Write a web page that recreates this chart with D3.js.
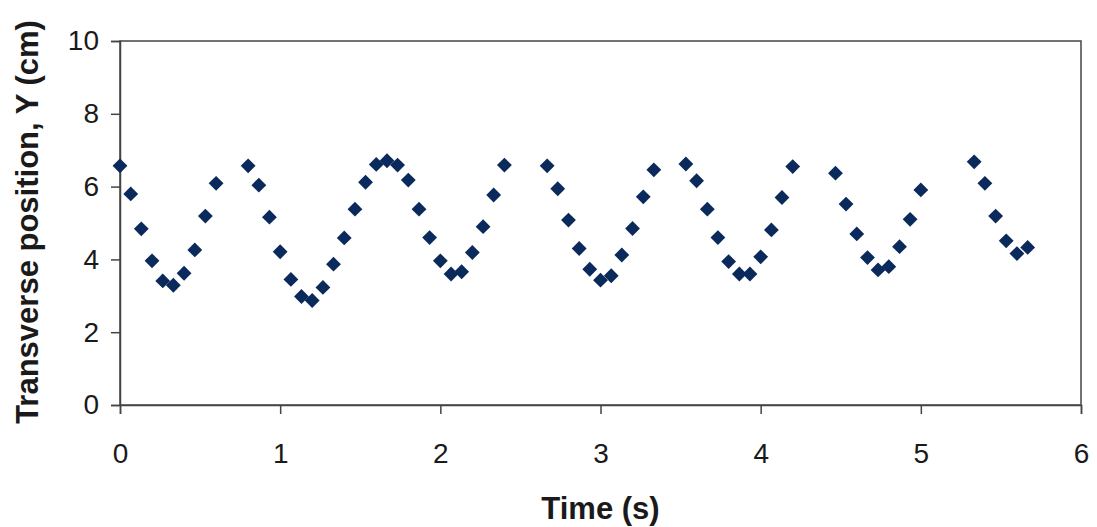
<!DOCTYPE html>
<html>
<head>
<meta charset="utf-8">
<script src="https://cdn.jsdelivr.net/npm/d3@7"></script>
<style>
  body { margin: 0; background: #fff; }
  svg { display: block; font-family: "Liberation Sans", Arial, sans-serif; }
</style>
</head>
<body>
<svg id="chart"></svg>
<script>
// time (s) and transverse position Y (cm)
var times = [0, 0.067, 0.133, 0.2, 0.267, 0.333, 0.4, 0.467, 0.533, 0.6,
  0.8, 0.867, 0.933, 1.0, 1.067, 1.133, 1.2, 1.267, 1.333, 1.4, 1.467, 1.533, 1.6, 1.667, 1.733,
  1.8, 1.867, 1.933, 2.0, 2.067, 2.133, 2.2, 2.267, 2.333, 2.4,
  2.667, 2.733, 2.8, 2.867, 2.933, 3.0, 3.067, 3.133, 3.2, 3.267, 3.333,
  3.533, 3.6, 3.667, 3.733, 3.8, 3.867, 3.933, 4.0, 4.067, 4.133, 4.2,
  4.467, 4.533, 4.6, 4.667, 4.733, 4.8, 4.867, 4.933, 5.0,
  5.333, 5.4, 5.467, 5.533, 5.6, 5.667];
var positions = [6.57, 5.80, 4.84, 3.96, 3.41, 3.29, 3.62, 4.26, 5.19, 6.09,
  6.57, 6.04, 5.16, 4.21, 3.45, 2.98, 2.87, 3.23, 3.87, 4.59, 5.38, 6.12, 6.61, 6.71, 6.59,
  6.18, 5.38, 4.60, 3.96, 3.60, 3.66, 4.19, 4.90, 5.77, 6.59,
  6.57, 5.94, 5.08, 4.30, 3.73, 3.43, 3.55, 4.12, 4.85, 5.72, 6.46,
  6.62, 6.16, 5.38, 4.60, 3.94, 3.60, 3.60, 4.07, 4.81, 5.70, 6.55,
  6.37, 5.52, 4.70, 4.05, 3.71, 3.80, 4.35, 5.10, 5.91,
  6.68, 6.09, 5.19, 4.51, 4.16, 4.33];
var xTicks = [0, 1, 2, 3, 4, 5, 6];
var yTicks = [0, 2, 4, 6, 8, 10];

var W = 1097, H = 527;
var plotL = 120, plotR = 1081, plotT = 41, plotB = 405;

var svg = d3.select("#chart").attr("width", W).attr("height", H);

var x = d3.scaleLinear().domain([0, 6]).range([plotL, plotR]);
var y = d3.scaleLinear().domain([0, 10]).range([plotB, plotT]);

// plot frame
svg.append("rect")
  .attr("x", plotL).attr("y", plotT)
  .attr("width", plotR - plotL).attr("height", plotB - plotT)
  .attr("fill", "none").attr("stroke", "#444").attr("stroke-width", 1.5);

var yAxis = svg.append("g").attr("transform", "translate(" + plotL + ",0)")
  .call(d3.axisLeft(y).tickValues(yTicks).tickFormat(d3.format("d")).tickSize(9).tickPadding(12));
var xAxis = svg.append("g").attr("transform", "translate(0," + plotB + ")")
  .call(d3.axisBottom(x).tickValues(xTicks).tickFormat(d3.format("d")).tickSize(9).tickPadding(29));

[yAxis, xAxis].forEach(function(a) {
  a.select(".domain").attr("stroke", "#444").attr("stroke-width", 1.5);
  a.selectAll(".tick line").attr("stroke", "#444").attr("stroke-width", 1.5);
  a.selectAll(".tick text").attr("fill", "#1a1a1a")
    .style("font-size", "28px").style("font-family", "Liberation Sans, Arial, sans-serif");
});

// points as rotated squares (diamonds)
svg.append("g").selectAll("path").data(times).enter().append("path")
  .attr("d", d3.symbol().type(d3.symbolSquare).size(110))
  .attr("transform", function(d, i) {
    return "translate(" + x(d) + "," + y(positions[i]) + ") rotate(45)";
  })
  .attr("fill", "#0b2a5c");

svg.append("text")
  .attr("x", (plotL + plotR) / 2).attr("y", 519)
  .attr("text-anchor", "middle")
  .style("font-size", "31px").style("font-weight", "bold").attr("fill", "#1a1a1a")
  .text("Time (s)");

svg.append("text")
  .attr("transform", "translate(38," + 222 + ") rotate(-90)")
  .attr("text-anchor", "middle")
  .style("font-size", "31px").style("font-weight", "bold").attr("fill", "#1a1a1a")
  .text("Transverse position, Y (cm)");
</script>
</body>
</html>
